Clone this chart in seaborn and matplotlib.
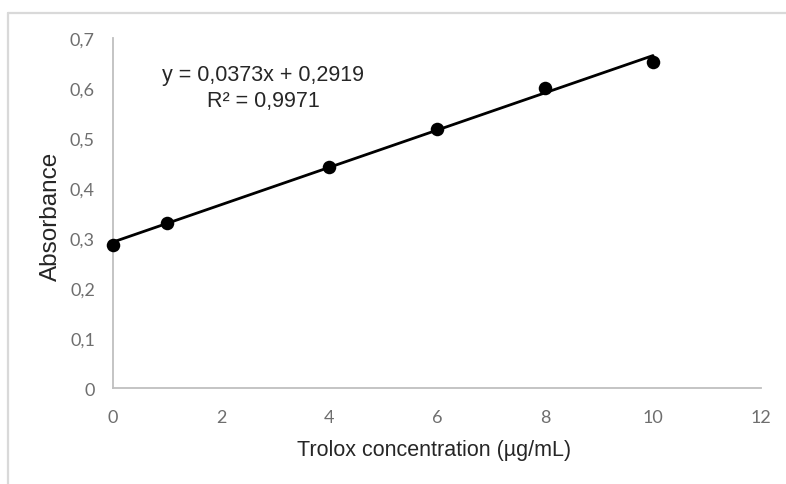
import numpy as np
import pandas as pd
import matplotlib
matplotlib.use("Agg")
import matplotlib.pyplot as plt
from matplotlib.lines import Line2D
import seaborn as sns

# Trolox standard curve values
conc = [0, 1, 4, 6, 8, 10]
absorb = [0.287, 0.330, 0.443, 0.518, 0.600, 0.653]
slope = 0.0373
intercept = 0.2919
x_ticks = [0, 2, 4, 6, 8, 10, 12]
y_ticks = [0, 0.1, 0.2, 0.3, 0.4, 0.5, 0.6, 0.7]
eq_text = "y = 0,0373x + 0,2919"
r2_text = "R² = 0,9971"

df = pd.DataFrame({"conc": conc, "abs": absorb})
trend = pd.DataFrame({"conc": [min(conc), max(conc)]})
trend["abs"] = slope * trend["conc"] + intercept

sns.set_style("white")
plt.rcParams["font.family"] = ["Liberation Sans", "DejaVu Sans"]

fig = plt.figure(figsize=(7.86, 4.85), dpi=100)
ax = fig.add_axes([113/786, 1 - 389/485, (761-113)/786, (389-39)/485])

sns.lineplot(data=trend, x="conc", y="abs", ax=ax, color="black", linewidth=2.0)
sns.scatterplot(data=df, x="conc", y="abs", ax=ax, color="black", s=95,
                edgecolor="black", linewidth=0, zorder=3, clip_on=False)

ax.set_xlim(0, 12)
ax.set_ylim(0, 0.7)
ax.set_xticks(x_ticks)
ax.set_yticks(y_ticks)
ax.set_xticklabels([str(t) for t in x_ticks])
ax.set_yticklabels(["0" if t == 0 else ("%.1f" % t).replace(".", ",") for t in y_ticks])
ax.tick_params(length=0, labelsize=13, labelcolor="#6e6e6e")
ax.tick_params(axis="x", pad=15)
ax.tick_params(axis="y", pad=13)
for lab in ax.get_xticklabels() + ax.get_yticklabels():
    lab.set_family(["Lato", "DejaVu Sans"])

for s in ["top", "right"]:
    ax.spines[s].set_visible(False)
for s in ["left", "bottom"]:
    ax.spines[s].set_color("#bfbfbf")
    ax.spines[s].set_linewidth(1.3)

ax.set_xlabel("Trolox concentration (µg/mL)", fontsize=15.5, va="top")
ax.xaxis.set_label_coords(0.4954, -0.145)
ax.set_ylabel("Absorbance", fontsize=17.5)
ax.yaxis.set_label_coords(-0.079, 0.493)

fig.text(263/786, 1 - 75/485, eq_text, ha="center", va="center", fontsize=15.5)
fig.text(263/786, 1 - 101/485, r2_text, ha="center", va="center", fontsize=15.5)

# light frame of the chart area (cut off at right and bottom)
fig.add_artist(Line2D([8/786, 1], [1 - 14/485, 1 - 14/485], transform=fig.transFigure,
                      color="#d9d9d9", linewidth=1.6))
fig.add_artist(Line2D([8/786, 8/786], [0, 1 - 14/485], transform=fig.transFigure,
                      color="#d9d9d9", linewidth=1.6))

fig.savefig("out.png", dpi=100)
